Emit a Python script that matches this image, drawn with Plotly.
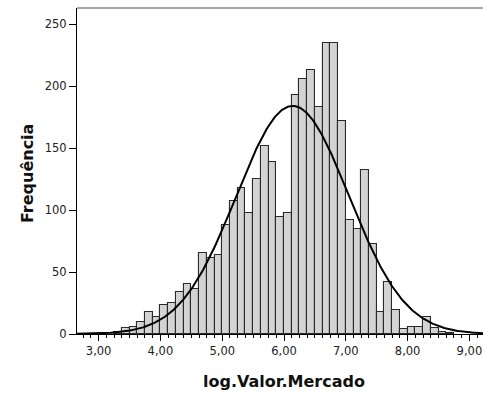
import numpy as np
import plotly.graph_objects as go

# Histogram bins (left edges) and frequencies, bin width 0.125
bin_left = [3.25, 3.375, 3.5, 3.625, 3.75, 3.875, 4.0, 4.125, 4.25, 4.375, 4.5,
            4.625, 4.75, 4.875, 5.0, 5.125, 5.25, 5.375, 5.5, 5.625, 5.75, 5.875,
            6.0, 6.125, 6.25, 6.375, 6.5, 6.625, 6.75, 6.875, 7.0, 7.125, 7.25,
            7.375, 7.5, 7.625, 7.75, 7.875, 8.0, 8.125, 8.25, 8.375, 8.5, 8.625]
freq = [2, 5, 6, 10, 18, 14, 23, 25, 34, 40, 36,
        65, 61, 64, 88, 107, 118, 98, 125, 152, 139, 94,
        98, 193, 206, 213, 183, 235, 235, 172, 92, 85, 132,
        73, 18, 42, 19, 4, 6, 6, 14, 5, 2, 1]
bin_width = 0.125

# Normal curve parameters
curve_mean = 6.14
curve_sd = 0.91

x_tickvals = [3, 4, 5, 6, 7, 8, 9]
x_ticktext = ["3,00", "4,00", "5,00", "6,00", "7,00", "8,00", "9,00"]
y_tickvals = [0, 50, 100, 150, 200, 250]

x_range = [2.65, 9.22]
y_range = [0, 263]

centers = [b + bin_width / 2 for b in bin_left]
n_total = sum(freq)

xs = np.linspace(x_range[0], x_range[1], 400)
ys = n_total * bin_width / (curve_sd * np.sqrt(2 * np.pi)) * np.exp(-0.5 * ((xs - curve_mean) / curve_sd) ** 2)

fig = go.Figure()
fig.add_trace(go.Bar(
    x=centers, y=freq, width=bin_width,
    marker=dict(color="#d3d3d3", line=dict(color="#2a2a2a", width=1.1)),
    showlegend=False, hoverinfo="skip",
))
fig.add_trace(go.Scatter(
    x=xs, y=ys, mode="lines",
    line=dict(color="#000000", width=2),
    showlegend=False, hoverinfo="skip",
))

fig.update_layout(
    width=483, height=396,
    margin=dict(l=77, r=0, t=8, b=62),
    paper_bgcolor="white", plot_bgcolor="white",
    font=dict(family="DejaVu Sans", size=12, color="#222222"),
    bargap=0,
    xaxis=dict(
        range=x_range, tickvals=x_tickvals, ticktext=x_ticktext,
        showgrid=False, zeroline=False, showline=True, linecolor="#000000", linewidth=1,
        ticks="outside", ticklen=6, tickcolor="#000000", tickwidth=1,
        minor=dict(tick0=0, dtick=bin_width, ticks="outside", ticklen=3,
                   tickcolor="#000000", tickwidth=1, showgrid=False),
        tickfont=dict(size=11.5, color="#222222"),
    ),
    yaxis=dict(
        range=y_range, tickvals=y_tickvals,
        showgrid=False, zeroline=False, showline=True, linecolor="#000000", linewidth=1,
        ticks="outside", ticklen=7, tickcolor="#000000", tickwidth=1,
        tickfont=dict(size=11.5, color="#222222"),
    ),
    shapes=[dict(type="line", xref="paper", yref="paper", x0=0, x1=1, y0=1, y1=1,
                 line=dict(color="#888888", width=1.5))],
    annotations=[
        dict(text="<b>log.Valor.Mercado</b>", xref="paper", yref="paper",
             x=0.51, y=-0.146, xanchor="center", yanchor="middle", showarrow=False,
             font=dict(size=16, color="#111111")),
        dict(text="<b>Frequência</b>", xref="paper", yref="paper",
             x=-0.122, y=0.495, xanchor="center", yanchor="middle", showarrow=False,
             textangle=-90, font=dict(size=16, color="#111111")),
    ],
)

fig.write_html("out.html")
